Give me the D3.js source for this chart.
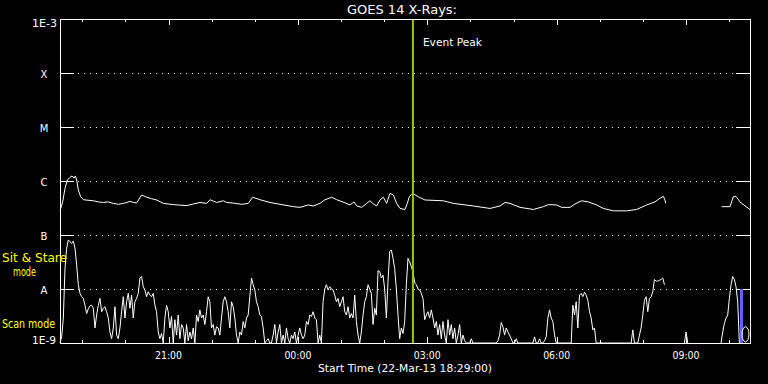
<!DOCTYPE html>
<html><head><meta charset="utf-8">
<script src="https://cdn.jsdelivr.net/npm/d3@7"></script>
<style>html,body{margin:0;padding:0;background:#000;} svg{display:block;}</style>
</head><body>
<svg id="chart" width="768" height="384"></svg>
<script>
// ---------------- DATA ----------------
const startTime = "2013-03-22T18:29:00";
const endTime   = "2013-03-23T10:29:00";
const titleText = "GOES 14 X-Rays:";
const xAxisTitle = "Start Time (22-Mar-13 18:29:00)";
const yTickValues = [1e-9, 1e-8, 1e-7, 1e-6, 1e-5, 1e-4, 1e-3];
const yTickLabels = ["1E-9", "A", "B", "C", "M", "X", "1E-3"];
const gridValues  = [1e-8, 1e-7, 1e-6, 1e-5, 1e-4];
const majorTickEveryHours = 3;

// Long channel (upper curve): minutes after start time, flux W/m^2 (null = data gap)
const longMinutes = [0,3.7,7.0,10.2,13.9,16.7,19.5,21.3,23.2,25.5,28.8,32.5,46.4,53.3,60.3,67.2,74.2,81.2,88.1,92.8,
  97.4,102,106.7,113.6,120.6,127.5,134.5,143.8,157.7,176.2,185.5,194.8,204.1,208.7,218,227.3,231.9,241.2,252.8,262,
  268.1,278.3,292.2,306.1,324.6,333.9,345.5,352.5,361.8,368.7,378,385,396.5,403.5,409,412.8,419.7,426.7,431.3,436,
  440.6,445.2,449.9,454.5,459.1,463.8,468.4,473.1,480,483.2,486,489.3,492.5,498.5,507.8,533.3,547.2,575.1,598.3,612.2,
  619.1,626.1,640,658.6,672.5,679.4,691,698,709.6,716.5,725.8,735.1,746.7,756,769.9,788.4,802.3,816.2,827.8,834.8,
  839.4,841.7,842.7,880,920.6,932.2,936.8,940.5,946.1,953.1,960];
const longFlux = [2.8e-7,4.1e-7,7.3e-7,1.04e-6,1.17e-6,1.24e-6,1.13e-6,1.24e-6,1.04e-6,6.8e-7,5.1e-7,4.5e-7,4.3e-7,4.1e-7,4.0e-7,4.1e-7,3.85e-7,3.7e-7,3.85e-7,4.0e-7,
  4.2e-7,4.0e-7,3.95e-7,5.5e-7,5.0e-7,4.7e-7,4.45e-7,3.85e-7,3.65e-7,3.5e-7,3.75e-7,4.0e-7,3.85e-7,4.5e-7,4.0e-7,4.3e-7,4.0e-7,3.9e-7,3.7e-7,3.85e-7,
  5.0e-7,4.5e-7,4.0e-7,3.7e-7,3.35e-7,3.25e-7,3.6e-7,3.45e-7,3.85e-7,4.5e-7,5.0e-7,4.5e-7,3.95e-7,3.6e-7,4.1e-7,3.45e-7,3.25e-7,3.85e-7,4.3e-7,3.75e-7,
  3.45e-7,4.45e-7,5.0e-7,3.85e-7,5.9e-7,5.5e-7,3.85e-7,3.1e-7,2.97e-7,3.85e-7,5.1e-7,5.7e-7,5.7e-7,5.1e-7,4.45e-7,4.3e-7,3.85e-7,3.45e-7,3.1e-7,3.45e-7,
  4.0e-7,3.85e-7,3.25e-7,2.97e-7,3.35e-7,3.65e-7,3.6e-7,3.25e-7,3.25e-7,3.75e-7,4.3e-7,4.1e-7,3.6e-7,3.1e-7,2.8e-7,2.8e-7,2.97e-7,3.6e-7,4.1e-7,4.8e-7,
  5.2e-7,4.45e-7,3.85e-7,null,3.35e-7,3.35e-7,5.1e-7,5.2e-7,4.1e-7,3.45e-7,2.97e-7];

// Short channel (lower curve): regular cadence, values in nW/m^2 (null = data gap)
const shortStepSeconds = 139;
const shortFluxNW = [
  1.0,1.3,2.9,24,57,81,75,70,77,57,
  28,12,8.3,7.2,6.7,5.0,3.5,4.3,4.9,5.0,
  4.4,1.9,3.3,5.0,6.7,3.8,4.4,4.7,3.8,2.9,
  1.6,1.2,1.9,4.7,1.4,1.2,1.9,3.8,7.2,2.9,
  5.8,8.3,4.4,7.7,2.9,5.8,6.7,8.3,16,17,
  11,9.6,7.2,8.9,7.7,7.2,8.3,5.0,3.8,1.6,
  1.2,1.5,1.0,2.9,5.0,3.8,1.9,3.1,1.0,2.7,
  1.4,3.3,1.2,2.2,1.9,1.0,2.2,1.1,1.6,1.2,
  1.9,1.0,3.3,2.5,4.1,2.9,3.3,2.2,3.8,7.2,
  5.8,1.9,2.2,1.4,2.0,1.9,1.4,2.9,5.8,7.2,
  5.8,3.8,1.9,5.8,4.7,2.9,1.4,1.0,1.6,1.4,
  2.5,1.9,2.9,3.3,7.2,16,12,9.6,5.8,4.7,
  3.3,3.1,1.9,1.0,1.1,1.2,1.0,1.0,1.4,2.2,
  1.0,1.6,2.2,1.0,1.4,1.0,1.9,1.2,1.0,1.4,
  1.2,1.6,1.0,1.4,1.9,1.4,1.2,1.4,2.5,2.2,
  3.3,3.1,3.8,2.9,2.7,1.0,1.4,1.0,5.8,10,
  12,9.6,11,10,9.6,7.7,5.8,6.7,4.7,5.8,
  7.2,3.8,3.3,4.7,2.9,3.5,2.9,7.7,2.5,1.4,
  1.0,1.6,3.3,5.8,7.2,12,10,8.3,2.2,4.4,
  3.3,22,21,16,18,10,2.9,14,49,53,
  37,24,10,3.3,
  1.2,1.9,1.5,2.5,12,37,32,26,21,13,
  12,10,9.6,8.3,6.7,2.7,3.3,3.8,2.9,4.1,
  2.9,1.9,2.5,1.4,2.2,1.2,2.5,1.4,1.0,2.7,
  1.4,2.2,1.2,1.9,1.0,1.4,2.2,1.0,1.4,1.1,
  1.0,1.0,1.0,1.2,1.0,1.0,1.0,1.0,1.0,1.0,
  1.0,1.0,1.0,1.0,1.0,1.0,1.0,1.0,1.0,1.1,
  1.4,2.4,2.0,1.4,1.9,1.6,1.4,1.2,1.0,1.0,
  1.2,1.0,1.0,1.0,1.0,1.0,1.0,1.0,1.0,1.0,
  1.0,1.3,1.0,1.0,1.2,1.0,1.0,1.1,1.3,2.9,
  4.1,2.9,2.5,1.4,1.0,1.0,1.0,1.0,1.0,1.0,
  1.0,1.0,1.0,1.0,5.0,3.3,5.8,1.9,7.7,8.3,
  7.2,8.7,7.7,6.2,3.8,2.9,1.75,1.9,1.0,1.0,
  1.0,1.0,1.0,1.0,1.0,1.0,1.0,1.0,1.0,1.0,
  1.0,1.0,1.0,1.0,1.0,1.0,1.0,1.0,1.0,1.0,
  1.75,1.0,1.0,1.0,1.4,1.9,3.3,6.2,7.2,3.8,
  6.7,7.2,8.9,15,14,14,14.5,15,16,12,
  null,null,null,null,null,null,null,null,null,null,
  null,1.0,1.6,1.0,null,null,null,null,null,null,
  null,null,null,null,null,null,null,null,null,null,
  null,null,null,1.0,1.6,2.3,2.9,3.3,6.7,12,
  17,15,11,5.8,1.0];

const eventPeakTime = "2013-03-23T02:40:00";
const eventLabel = "Event Peak";
const scanModeStart = "2013-03-23T10:15:00";
const scanModeEnd   = "2013-03-23T10:19:20";
const scanModeTop = 1e-8, scanModeBottom = 1e-9;
const markerTime = "2013-03-23T10:22:40";
const markerFlux = 1.45e-9;
const modeLabels = [
  {text: "Sit & Stare", x: 2, y: 262, w: 65},
  {text: "mode", x: 13, y: 275.5, w: 23},
  {text: "Scan mode", x: 2, y: 327.5, w: 53}
];

// ---------------- CHART ----------------
const svg = d3.select("#chart");
const FONT = "DejaVu Sans, Verdana, sans-serif";
const L = 60, R = 750, T = 19, B = 343;
const t0 = new Date(startTime), t1 = new Date(endTime);
const x = d3.scaleTime().domain([t0, t1]).range([L, R]);
const y = d3.scaleLog().domain([1e-9, 1e-3]).range([B, T]).clamp(true);

svg.append("rect").attr("width", 768).attr("height", 384).attr("fill", "#000");

// dotted grid
svg.append("g").selectAll("line").data(gridValues).join("line")
  .attr("x1", L + 18).attr("x2", R - 16)
  .attr("y1", d => Math.round(y(d)) + 0.5).attr("y2", d => Math.round(y(d)) + 0.5)
  .attr("stroke", "#fff").attr("stroke-width", 1).attr("stroke-dasharray", "1,5")
  .attr("shape-rendering", "crispEdges");

// y ticks left & right
const yt = svg.append("g").attr("shape-rendering", "crispEdges");
yTickValues.forEach(v => {
  const yy = Math.round(y(v)) + 0.5;
  yt.append("line").attr("x1", L).attr("x2", L + 14).attr("y1", yy).attr("y2", yy).attr("stroke", "#fff");
  yt.append("line").attr("x1", R - 14).attr("x2", R).attr("y1", yy).attr("y2", yy).attr("stroke", "#fff");
});

// x ticks top & bottom
const hours = x.ticks(d3.timeHour.every(1));
const xt = svg.append("g").attr("shape-rendering", "crispEdges");
hours.forEach(h => {
  const xx = Math.round(x(h)) + 0.5;
  const major = h.getHours() % majorTickEveryHours === 0;
  const len = major ? 6 : 3;
  xt.append("line").attr("x1", xx).attr("x2", xx).attr("y1", T).attr("y2", T + len).attr("stroke", "#fff");
  xt.append("line").attr("x1", xx).attr("x2", xx).attr("y1", B).attr("y2", B - len).attr("stroke", "#fff");
});
const fmt = d3.timeFormat("%H:%M");
svg.append("g").selectAll("text").data(hours.filter(h => h.getHours() % majorTickEveryHours === 0)).join("text")
  .attr("x", d => x(d)).attr("y", 359).attr("text-anchor", "middle")
  .attr("font-family", FONT).attr("font-size", 10).attr("fill", "#fff")
  .attr("textLength", 27).attr("lengthAdjust", "spacingAndGlyphs")
  .text(d => fmt(d));

// y labels
yTickValues.forEach((v, i) => {
  const yy = y(v);
  const lab = yTickLabels[i];
  let base, xx, anchor, tl = null;
  if (v === 1e-3) { base = yy + 8; xx = 57; anchor = "end"; tl = 25; }
  else if (v === 1e-9) { base = yy + 0.5; xx = 56; anchor = "end"; tl = 24; }
  else { base = yy + 4.5; xx = 44; anchor = "middle"; }
  const t = svg.append("text").attr("x", xx).attr("y", base).attr("text-anchor", anchor)
    .attr("font-family", FONT).attr("font-size", 10).attr("fill", "#fff").text(lab);
  if (tl) t.attr("textLength", tl).attr("lengthAdjust", "spacingAndGlyphs");
});

// curves
const longData = longMinutes.map((m, i) => ({t: new Date(t0.getTime() + m * 60000), v: longFlux[i]}));
const shortData = shortFluxNW.map((v, i) => ({t: new Date(t0.getTime() + i * shortStepSeconds * 1000), v: v == null ? null : v * 1e-9}));
const line = d3.line().defined(d => d.v != null).x(d => x(d.t)).y(d => y(Math.max(d.v, 1e-9)));
svg.append("path").datum(shortData).attr("d", line).attr("fill", "none").attr("stroke", "#fff").attr("stroke-width", 1);
svg.append("path").datum(longData).attr("d", line).attr("fill", "none").attr("stroke", "#fff").attr("stroke-width", 1);

// scan mode bar
svg.append("rect").attr("x", x(new Date(scanModeStart))).attr("width", x(new Date(scanModeEnd)) - x(new Date(scanModeStart)))
  .attr("y", y(scanModeTop)).attr("height", y(scanModeBottom) - y(scanModeTop))
  .attr("fill", "#6060ff").attr("shape-rendering", "crispEdges");
svg.append("ellipse").attr("cx", x(new Date(markerTime))).attr("cy", y(markerFlux)).attr("rx", 3.5).attr("ry", 7.5)
  .attr("fill", "none").attr("stroke", "#fff").attr("stroke-width", 1);

// event peak line
const ex = x(new Date(eventPeakTime));
svg.append("line").attr("x1", ex).attr("x2", ex).attr("y1", T).attr("y2", B)
  .attr("stroke", "#99cc00").attr("stroke-width", 2);
svg.append("text").attr("x", ex + 10).attr("y", 46).attr("font-family", FONT).attr("font-size", 10.5)
  .attr("fill", "#fff").attr("textLength", 59).attr("lengthAdjust", "spacingAndGlyphs").text(eventLabel);

// border
svg.append("rect").attr("x", L + 0.5).attr("y", T + 0.5).attr("width", R - L).attr("height", B - T)
  .attr("fill", "none").attr("stroke", "#fff").attr("stroke-width", 1).attr("shape-rendering", "crispEdges");

// title & axis title
svg.append("text").attr("x", 347).attr("y", 14).attr("font-family", FONT).attr("font-size", 12.5)
  .attr("fill", "#fff").attr("textLength", 110).attr("lengthAdjust", "spacingAndGlyphs").text(titleText);
svg.append("text").attr("x", 318).attr("y", 372).attr("font-family", FONT).attr("font-size", 10.5)
  .attr("fill", "#fff").attr("textLength", 174).attr("lengthAdjust", "spacingAndGlyphs").text(xAxisTitle);

// mode labels
svg.append("g").selectAll("text").data(modeLabels).join("text")
  .attr("x", d => d.x).attr("y", d => d.y).attr("font-family", FONT).attr("font-size", 11.5)
  .attr("fill", "#ffff00").attr("textLength", d => d.w).attr("lengthAdjust", "spacingAndGlyphs")
  .text(d => d.text);
</script>
</body></html>
